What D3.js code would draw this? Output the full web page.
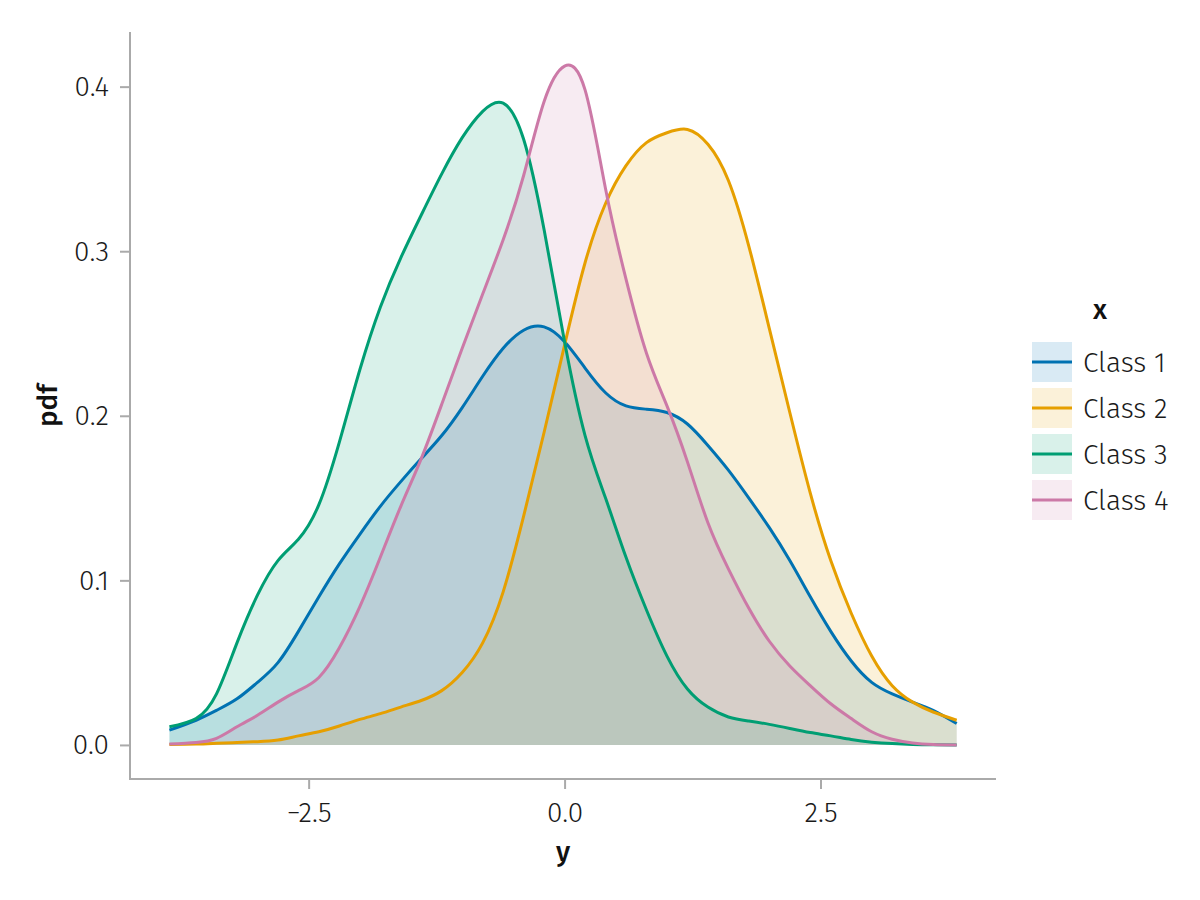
<!DOCTYPE html>
<html>
<head>
<meta charset="utf-8">
<script src="https://cdn.jsdelivr.net/npm/d3@7"></script>
<style>
  html, body { margin: 0; padding: 0; background: #fff; }
  svg text { font-family: "Fira Sans", "Open Sans", "Noto Sans", sans-serif; }
</style>
</head>
<body>
<svg id="chart" width="1200" height="900"></svg>
<script>
// ---- data ----
const xs = [-3.86, -3.6, -3.4, -3.2, -3.0, -2.8, -2.6, -2.4, -2.2, -2.0, -1.8, -1.6, -1.4, -1.2, -1.0, -0.8, -0.6, -0.4, -0.2, 0.0,
            0.2, 0.4, 0.6, 0.8, 1.0, 1.2, 1.4, 1.6, 1.8, 2.0, 2.2, 2.4, 2.6, 2.8, 3.0, 3.2, 3.4, 3.6, 3.83];

const class1 = [0.009, 0.015, 0.021, 0.028, 0.038, 0.050, 0.069, 0.090, 0.110, 0.128, 0.145, 0.160, 0.174, 0.188, 0.205, 0.224, 0.241, 0.252, 0.254, 0.245,
                0.229, 0.214, 0.206, 0.204, 0.202, 0.195, 0.182, 0.167, 0.150, 0.132, 0.112, 0.090, 0.069, 0.051, 0.038, 0.031, 0.026, 0.021, 0.013];
const class2 = [0.0003, 0.0005, 0.001, 0.0015, 0.002, 0.003, 0.0055, 0.008, 0.0115, 0.0155, 0.019, 0.023, 0.027, 0.033, 0.044, 0.062, 0.093, 0.139, 0.190, 0.243,
                0.293, 0.329, 0.352, 0.366, 0.372, 0.374, 0.365, 0.343, 0.303, 0.253, 0.202, 0.153, 0.112, 0.080, 0.054, 0.036, 0.026, 0.020, 0.015];
const class3 = [0.011, 0.016, 0.031, 0.062, 0.091, 0.112, 0.125, 0.146, 0.184, 0.228, 0.266, 0.296, 0.322, 0.347, 0.369, 0.385, 0.390, 0.368, 0.313, 0.245,
                0.188, 0.150, 0.114, 0.082, 0.054, 0.034, 0.023, 0.017, 0.0145, 0.0125, 0.010, 0.0075, 0.0055, 0.0033, 0.0017, 0.0008, 0.0003, 0.0001, 0.0];
const class4 = [0.0005, 0.0015, 0.004, 0.011, 0.018, 0.026, 0.033, 0.041, 0.059, 0.084, 0.114, 0.145, 0.174, 0.207, 0.241, 0.274, 0.307, 0.346, 0.391, 0.4125,
                0.398, 0.338, 0.283, 0.238, 0.206, 0.172, 0.135, 0.107, 0.083, 0.063, 0.048, 0.036, 0.025, 0.016, 0.008, 0.0035, 0.0012, 0.0003, 0.0];

const classNames = ["Class 1", "Class 2", "Class 3", "Class 4"];
const classColors = ["#0072B2", "#E69F00", "#009E73", "#CC79A7"];
const seriesValues = [class1, class2, class3, class4];

const xTicks = [-2.5, 0.0, 2.5];
const xTickLabels = ["\u22122.5", "0.0", "2.5"];
const yTicks = [0.0, 0.1, 0.2, 0.3, 0.4];
const yTickLabels = ["0.0", "0.1", "0.2", "0.3", "0.4"];

// ---- layout ----
const svg = d3.select("#chart");
const pLeft = 130, pRight = 996, pTop = 32, pBottom = 779;
const axisColor = "#aaaaaa";
const textColor = "#1a1a1a";

const x = d3.scaleLinear().domain([-4.245, 4.214]).range([pLeft, pRight]);
const y = d3.scaleLinear().domain([-0.0207, 0.4332]).range([pBottom, pTop]);

const series = seriesValues.map((vals, i) => ({
  name: classNames[i],
  color: classColors[i],
  points: xs.map((xv, j) => ({ x: xv, v: vals[j] }))
}));

const curve = d3.curveNatural;
const area = d3.area().x(d => x(d.x)).y0(y(0)).y1(d => y(d.v)).curve(curve);
const line = d3.line().x(d => x(d.x)).y(d => y(d.v)).curve(curve);

const plot = svg.append("g");
series.forEach(s => {
  plot.append("path").attr("d", area(s.points))
    .attr("fill", s.color).attr("fill-opacity", 0.15).attr("stroke", "none");
});
series.forEach(s => {
  plot.append("path").attr("d", line(s.points))
    .attr("fill", "none").attr("stroke", s.color).attr("stroke-width", 3)
    .attr("stroke-linejoin", "round");
});

// ---- axes ----
const xAxis = d3.axisBottom(x).tickValues(xTicks).tickFormat((d, i) => xTickLabels[i])
  .tickSize(10).tickPadding(13).tickSizeOuter(0);
const gx = svg.append("g").attr("transform", `translate(0,${pBottom})`).call(xAxis);
const yAxis = d3.axisLeft(y).tickValues(yTicks).tickFormat((d, i) => yTickLabels[i])
  .tickSize(10).tickPadding(11).tickSizeOuter(0);
const gy = svg.append("g").attr("transform", `translate(${pLeft},0)`).call(yAxis);

[gx, gy].forEach(g => {
  g.select(".domain").remove();
  g.selectAll(".tick line").attr("stroke", axisColor).attr("stroke-width", 2);
  g.selectAll(".tick text").attr("fill", textColor)
    .style("font-size", "28px").style("font-weight", 300);
});
gx.selectAll(".tick text").attr("dy", "0.71em");

// spines
svg.append("line").attr("x1", pLeft).attr("x2", pLeft).attr("y1", pTop).attr("y2", pBottom + 1)
  .attr("stroke", axisColor).attr("stroke-width", 2);
svg.append("line").attr("x1", pLeft - 1).attr("x2", pRight).attr("y1", pBottom).attr("y2", pBottom)
  .attr("stroke", axisColor).attr("stroke-width", 2);

// axis labels
svg.append("text").attr("x", (pLeft + pRight) / 2).attr("y", 861)
  .attr("text-anchor", "middle").attr("fill", "#111")
  .style("font-size", "28px").style("font-weight", 500).text("y");
svg.append("text")
  .attr("transform", `translate(57,${(pTop + pBottom) / 2}) rotate(-90)`)
  .attr("text-anchor", "middle").attr("fill", "#111")
  .style("font-size", "28px").style("font-weight", 500).text("pdf");

// ---- legend ----
const lg = svg.append("g");
lg.append("text").attr("x", 1100).attr("y", 319).attr("text-anchor", "middle")
  .attr("fill", "#111").style("font-size", "28px").style("font-weight", 500).text("x");
series.forEach((s, i) => {
  const ty = 342 + i * 46;
  lg.append("rect").attr("x", 1032).attr("y", ty).attr("width", 40).attr("height", 40)
    .attr("fill", s.color).attr("fill-opacity", 0.15);
  lg.append("line").attr("x1", 1032).attr("x2", 1072).attr("y1", ty + 20).attr("y2", ty + 20)
    .attr("stroke", s.color).attr("stroke-width", 3);
  lg.append("text").attr("x", 1083).attr("y", ty + 20).attr("dy", "0.35em")
    .attr("fill", textColor).style("font-size", "28px").style("font-weight", 300).text(s.name);
});
</script>
</body>
</html>
